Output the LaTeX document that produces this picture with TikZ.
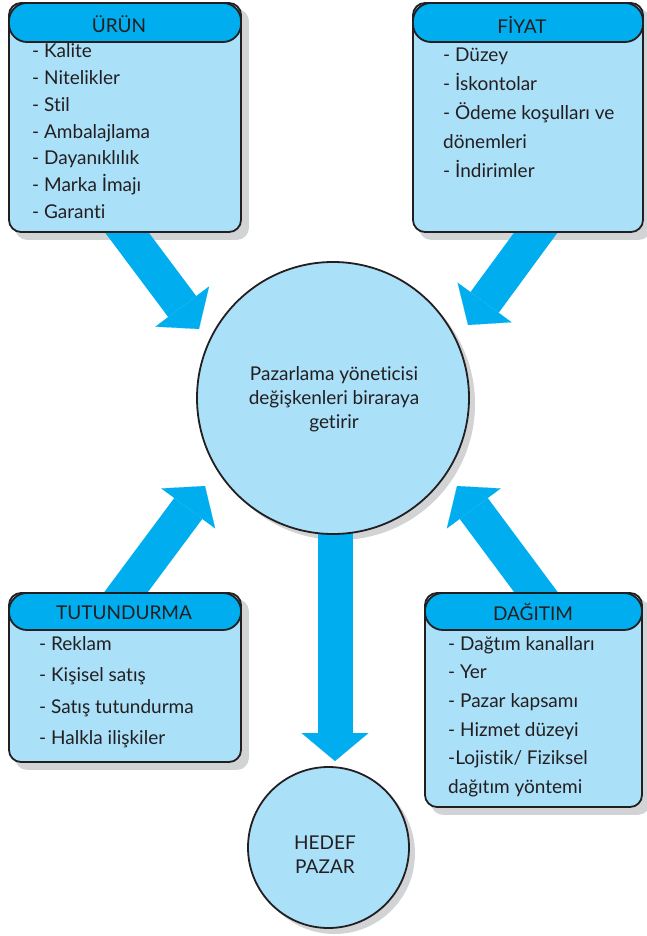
\documentclass[tikz,border=0pt]{standalone}
\usepackage{fontspec}
\setmainfont{Lato}[Ligatures=NoCommon]
\usetikzlibrary{arrows.meta}
\definecolor{headcyan}{HTML}{00AEEF}
\definecolor{bodyblue}{HTML}{ABE0F9}
\definecolor{shadowgrey}{HTML}{D1D3D4}
\definecolor{inkdark}{HTML}{231F20}
\pgfdeclarelayer{shadowlayer}
\pgfdeclarelayer{arrowlayer}
\pgfsetlayers{shadowlayer,arrowlayer,main}
\tikzset{
  panel/.style={draw=inkdark, line width=1.8pt, fill=bodyblue, rounded corners=12pt, inner sep=0pt},
  panelhead/.style={draw=inkdark, line width=1.8pt, fill=headcyan, rounded corners=18pt, inner sep=0pt},
  headtext/.style={font=\fontsize{19}{22}\selectfont, text=inkdark, anchor=base, inner sep=0pt},
  item/.style={font=\fontsize{19}{22}\selectfont, text=inkdark, anchor=base west, inner sep=0pt},
  hub/.style={circle, draw=inkdark, line width=1.8pt, fill=bodyblue, inner sep=0pt},
  hubtext/.style={align=center, text=inkdark, font=\fontsize{19}{24}\selectfont, inner sep=0pt, anchor=north},
  flow/.style={draw=headcyan, line width=35pt,
    -{Triangle[length=28pt, width=67pt, line width=0.1pt, color=headcyan]}},
  boxshadow/.style={fill=shadowgrey, rounded corners=12pt},
}
\begin{document}
\begin{tikzpicture}[x=1pt, y=-1pt]
\useasboundingbox (0,0) rectangle (646,936);

% panel bodies and headers
\node[panel, minimum width=232pt, minimum height=229pt] (urun) at (125,117.5) {};
\node[panelhead, minimum width=232pt, minimum height=39pt] (urunhead) at (125,22.5) {};
\node[headtext] (uruntitle) at (119,33) {ÜRÜN};

\node[panel, minimum width=230pt, minimum height=229pt] (fiyat) at (528,117.5) {};
\node[panelhead, minimum width=230pt, minimum height=39pt] (fiyathead) at (528,22.5) {};
\node[headtext] (fiyattitle) at (522,34) {FİYAT};

\node[panel, minimum width=232pt, minimum height=169pt] (tutun) at (125,677.5) {};
\node[panelhead, minimum width=232pt, minimum height=37pt] (tutunhead) at (125,611.5) {};
\node[headtext] (tutuntitle) at (124,619) {TUTUNDURMA};

\node[panel, minimum width=217pt, minimum height=214pt] (dagitim) at (533.5,700) {};
\node[panelhead, minimum width=217pt, minimum height=37pt] (dagitimhead) at (533.5,611.5) {};
\node[headtext] (dagitimtitle) at (533,620) {DAĞITIM};

% list entries
\foreach \t [count=\i] in {- Kalite, - Nitelikler, - Stil, - Ambalajlama, - Dayanıklılık, - Marka İmajı, - Garanti}
  \node[item] (u\i) at (32, {58+26.7*(\i-1)}) {\t};
\foreach \t [count=\i] in {- Düzey, - İskontolar, - Ödeme koşulları ve, dönemleri, - İndirimler}
  \node[item] (f\i) at (443, {62+29*(\i-1)}) {\t};
\foreach \t [count=\i] in {- Reklam, - Kişisel satış, - Satış tutundurma, - Halkla ilişkiler}
  \node[item] (t\i) at (39, {650+31.5*(\i-1)}) {\t};
\foreach \t [count=\i] in {- Dağtım kanalları, - Yer, - Pazar kapsamı, - Hizmet düzeyi, -Lojistik/ Fiziksel, dağıtım yöntemi}
  \node[item] (d\i) at (448, {650+28.7*(\i-1)}) {\t};

% circles and their texts
\node[hub, minimum size=272pt] (main) at (333,398) {};
\node[hubtext] (maintext) at (334,366) {Pazarlama yöneticisi\\değişkenleri biraraya\\getirir};
\node[hub, minimum size=161pt] (hedef) at (328.5,847.5) {};
\node[hubtext] (hedeftext) at (325,836) {HEDEF\\PAZAR};

% drop shadows
\begin{pgfonlayer}{shadowlayer}
  \foreach \b in {urun, fiyat, tutun, dagitim}
    \fill[boxshadow] ([shift={(7,7)}]\b.north west) rectangle ([shift={(7,7)}]\b.south east);
  \fill[shadowgrey] ([shift={(6,6)}]main.center) circle[radius=136pt];
  \fill[shadowgrey] ([shift={(6,6)}]hedef.center) circle[radius=80.5pt];
\end{pgfonlayer}

% flow arrows
\coordinate (a1s) at (114.5,216);  \coordinate (a1e) at (199,329);
\coordinate (a2s) at (548,216);    \coordinate (a2e) at (468,325);
\coordinate (a3s) at (113.5,609);  \coordinate (a3e) at (205,486);
\coordinate (a4s) at (548.5,609);  \coordinate (a4e) at (457,486);
\coordinate (a5s) at (335,450);    \coordinate (a5e) at (335,761);
\begin{pgfonlayer}{arrowlayer}
  \draw[flow] (a1s) -- (a1e);
  \draw[flow] (a2s) -- (a2e);
  \draw[flow] (a3s) -- (a3e);
  \draw[flow] (a4s) -- (a4e);
  \draw[flow] (a5s) -- (a5e);
\end{pgfonlayer}
\end{tikzpicture}
\end{document}
